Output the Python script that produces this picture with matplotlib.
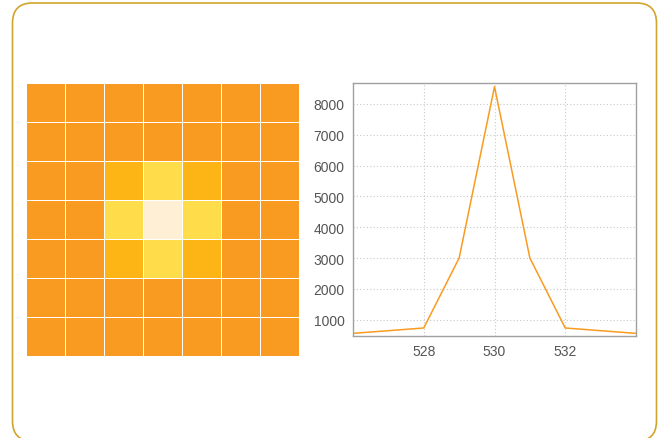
import matplotlib.pyplot as plt
import numpy as np
from matplotlib.colors import ListedColormap, BoundaryNorm
from matplotlib.patches import FancyBboxPatch

# heatmap values (7x7), peak in the centre
grid_vals = [
    [600, 600, 600, 600, 600, 600, 600],
    [600, 600, 600, 600, 600, 600, 600],
    [600, 600, 1800, 3000, 1800, 600, 600],
    [600, 600, 3000, 8550, 3000, 600, 600],
    [600, 600, 1800, 3000, 1800, 600, 600],
    [600, 600, 600, 600, 600, 600, 600],
    [600, 600, 600, 600, 600, 600, 600],
]
heat_colors = ['#F99B20', '#FDB515', '#FFDC4A', '#FFEFD4']
heat_bounds = [0, 1000, 2500, 5000, 10000]

# line profile
wave = [526, 528, 529, 530, 531, 532, 534]
counts = [555, 730, 3000, 8560, 3000, 730, 555]
xticks = [528, 530, 532]
yticks = [1000, 2000, 3000, 4000, 5000, 6000, 7000, 8000]

plt.rcParams['font.family'] = ['Liberation Sans', 'DejaVu Sans']

fig = plt.figure(figsize=(6.59, 4.39), dpi=100)

# rounded frame round the whole panel
frame = FancyBboxPatch((12.5, -3), 644, 438, boxstyle='round,pad=0,rounding_size=20',
                       transform=None, facecolor='none', edgecolor='#D0A52C', linewidth=1.2)
fig.patches.append(frame)

# heatmap
ax1 = fig.add_axes([26.5/659, 1 - 356.5/439, 272/659, 273/439])
cmap = ListedColormap(heat_colors)
norm = BoundaryNorm(heat_bounds, cmap.N)
data = np.array(grid_vals)
ax1.pcolormesh(data[::-1], cmap=cmap, norm=norm, edgecolors='white', linewidth=0.6)
ax1.set_xlim(0, data.shape[1])
ax1.set_ylim(0, data.shape[0])
ax1.set_xticks([])
ax1.set_yticks([])
for s in ax1.spines.values():
    s.set_visible(False)

# line chart
ax2 = fig.add_axes([353/659, 1 - 337/439, 283/659, 253/439])
ax2.plot(wave, counts, color='#F99B20', linewidth=1.1)
ax2.set_xlim(526, 534)
ax2.set_ylim(470, 8680)
ax2.set_xticks(xticks)
ax2.set_yticks(yticks)
ax2.grid(True, linestyle=(0, (1, 2)), color='#C8C8C8', linewidth=0.8)
ax2.tick_params(length=0, labelsize=10, labelcolor='#555555', pad=6)
for s in ax2.spines.values():
    s.set_color('#A0A0A0')
    s.set_linewidth(1.0)

fig.savefig('out.png', dpi=100)
